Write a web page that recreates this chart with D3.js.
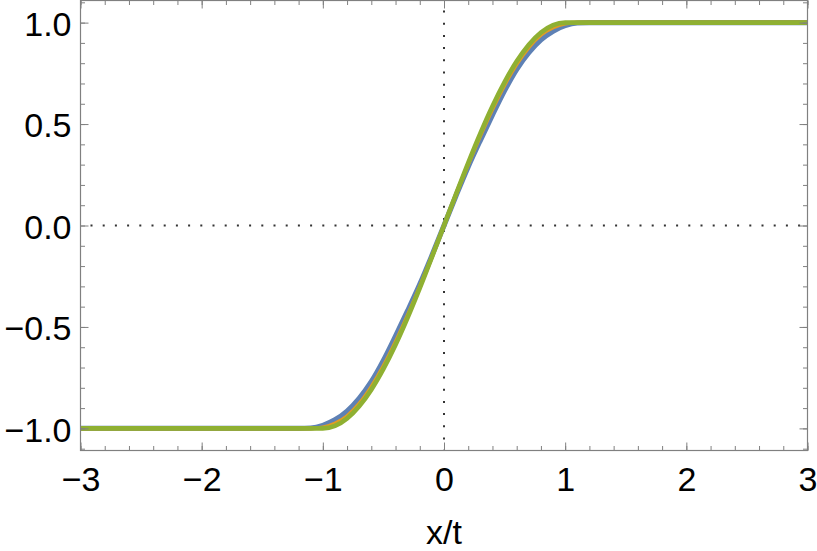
<!DOCTYPE html>
<html>
<head>
<meta charset="utf-8">
<script src="https://cdn.jsdelivr.net/npm/d3@7/dist/d3.min.js"></script>
<style>
  body { margin: 0; background: #fff; }
  svg text { font-family: "Liberation Sans", Arial, sans-serif; fill: #000; }
</style>
</head>
<body>
<div id="chart"></div>
<script>
// sample points along x/t
var xVals = [-3, -1.2, -1.1, -1.0, -0.9, -0.8, -0.7, -0.6, -0.5, -0.4, -0.3, -0.2, -0.1,
             0, 0.1, 0.2, 0.3, 0.4, 0.5, 0.6, 0.7, 0.8, 0.9, 1.0, 1.1, 1.2, 3];
var blueVals = [-1, -1, -0.998, -0.985, -0.958, -0.915, -0.852, -0.77, -0.665, -0.545, -0.42, -0.29, -0.148,
                0, 0.148, 0.29, 0.42, 0.545, 0.665, 0.77, 0.852, 0.915, 0.958, 0.985, 0.998, 1, 1];
var orangeVals = [-1, -1, -1, -0.995, -0.976, -0.94, -0.879, -0.796, -0.694, -0.575, -0.444, -0.303, -0.154,
                  0, 0.154, 0.303, 0.444, 0.575, 0.694, 0.796, 0.879, 0.94, 0.976, 0.995, 1, 1, 1];
var greenVals = [-1, -1, -1, -1, -0.988, -0.951, -0.891, -0.809, -0.707, -0.588, -0.454, -0.309, -0.156,
                 0, 0.156, 0.309, 0.454, 0.588, 0.707, 0.809, 0.891, 0.951, 0.988, 1, 1, 1, 1];
var seriesColors = ["#5E81B5", "#E19C24", "#8FB032"];

var xMajor = [-3, -2, -1, 0, 1, 2, 3];
var xLabels = ["\u22123", "\u22122", "\u22121", "0", "1", "2", "3"];
var yMajor = [-1, -0.5, 0, 0.5, 1];
var yLabels = ["\u22121.0", "\u22120.5", "0.0", "0.5", "1.0"];

var width = 817, height = 551;
var svg = d3.select("#chart").append("svg")
    .attr("width", width)
    .attr("height", height);

var x = d3.scaleLinear().domain([-3, 3]).range([80.5, 807.5]);
var y = d3.scaleLinear().domain([-1.109, 1.109]).range([450.5, 0.5]);

var xMinor = d3.range(-30, 31, 2).map(function(d) { return d / 10; });
var yMinor = d3.range(-11, 12).map(function(d) { return d / 10; });

var frameColor = "#808080";

// dotted zero lines
svg.append("line")
    .attr("x1", x(0)).attr("x2", x(0))
    .attr("y1", y.range()[1] + 10).attr("y2", y.range()[0])
    .attr("stroke", "#333").attr("stroke-width", 2)
    .attr("stroke-dasharray", "2,10.2");
svg.append("line")
    .attr("x1", x.range()[0] + 10).attr("x2", x.range()[1])
    .attr("y1", y(0)).attr("y2", y(0))
    .attr("stroke", "#333").attr("stroke-width", 2)
    .attr("stroke-dasharray", "2,10.2");

// curves
var line = d3.line()
    .x(function(d) { return x(d[0]); })
    .y(function(d) { return y(d[1]); })
    .curve(d3.curveMonotoneX);

[blueVals, orangeVals, greenVals].forEach(function(vals, i) {
    var pts = xVals.map(function(v, j) { return [v, vals[j]]; });
    svg.append("path")
        .datum(pts)
        .attr("fill", "none")
        .attr("stroke", seriesColors[i])
        .attr("stroke-width", i === 0 ? 5.2 : (i === 1 ? 4 : 4.6))
        .attr("d", line);
});

// axes with inward ticks
function styleAxis(g) {
    g.select(".domain").remove();
    g.selectAll(".tick line").attr("stroke", frameColor).attr("stroke-width", 1);
}

var b = svg.append("g").attr("transform", "translate(0," + y.range()[0] + ")");
b.call(d3.axisBottom(x).tickValues(xMinor).tickSize(-4.5).tickFormat("")).call(styleAxis);
b.append("g").call(d3.axisBottom(x).tickValues(xMajor).tickSizeInner(-8).tickSizeOuter(0).tickPadding(16)
    .tickFormat(function(d, i) { return xLabels[i]; })).call(styleAxis);

var t = svg.append("g").attr("transform", "translate(0," + y.range()[1] + ")");
t.call(d3.axisTop(x).tickValues(xMinor).tickSize(-4.5).tickFormat("")).call(styleAxis);
t.append("g").call(d3.axisTop(x).tickValues(xMajor).tickSize(-8).tickFormat("")).call(styleAxis);

var l = svg.append("g").attr("transform", "translate(" + x.range()[0] + ",0)");
l.call(d3.axisLeft(y).tickValues(yMinor).tickSize(-4.5).tickFormat("")).call(styleAxis);
l.append("g").call(d3.axisLeft(y).tickValues(yMajor).tickSizeInner(-8).tickSizeOuter(0).tickPadding(9)
    .tickFormat(function(d, i) { return yLabels[i]; })).call(styleAxis);

var r = svg.append("g").attr("transform", "translate(" + x.range()[1] + ",0)");
r.call(d3.axisRight(y).tickValues(yMinor).tickSize(-4.5).tickFormat("")).call(styleAxis);
r.append("g").call(d3.axisRight(y).tickValues(yMajor).tickSize(-8).tickFormat("")).call(styleAxis);

svg.selectAll(".tick text")
    .attr("font-size", 34)
    .style("font-family", "'Liberation Sans', Arial, sans-serif")
    .attr("fill", "#000");
l.selectAll(".tick text").attr("dy", "0.38em");

// frame
svg.append("rect")
    .attr("x", x.range()[0]).attr("y", y.range()[1])
    .attr("width", x.range()[1] - x.range()[0])
    .attr("height", y.range()[0] - y.range()[1])
    .attr("fill", "none")
    .attr("stroke", frameColor)
    .attr("stroke-width", 1.2);

// x label
svg.append("text")
    .attr("x", x(0))
    .attr("y", 544)
    .attr("text-anchor", "middle")
    .attr("font-size", 34)
    .text("x/t");
</script>
</body>
</html>
